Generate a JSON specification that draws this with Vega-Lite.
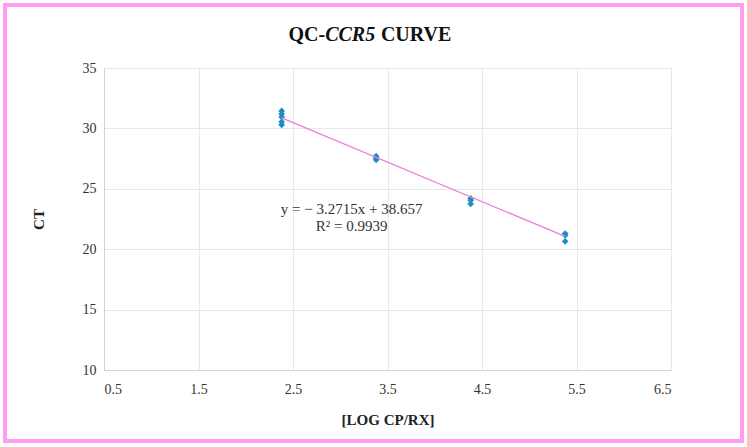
{
  "$schema": "https://vega.github.io/schema/vega-lite/v6.json",
  "width": 567,
  "height": 302,
  "autosize": {"type": "none"},
  "padding": {"left": 104, "top": 68, "right": 76, "bottom": 77},
  "background": "white",
  "config": {
    "view": {"stroke": null},
    "font": "Liberation Serif",
    "axis": {
      "labelFont": "Liberation Serif",
      "titleFont": "Liberation Serif",
      "labelFontSize": 14,
      "labelColor": "#333333",
      "titleFontSize": 15,
      "titleFontWeight": "bold",
      "titleColor": "#222222",
      "ticks": false,
      "grid": true,
      "gridColor": "#E2E9EF",
      "domainColor": "#C6D3E1"
    }
  },
  "datasets": {
    "points": [
      {"logcp": 2.38, "ct": 31.45},
      {"logcp": 2.38, "ct": 31.2},
      {"logcp": 2.38, "ct": 30.95},
      {"logcp": 2.38, "ct": 30.55},
      {"logcp": 2.38, "ct": 30.3},
      {"logcp": 3.38, "ct": 27.7},
      {"logcp": 3.38, "ct": 27.55},
      {"logcp": 3.38, "ct": 27.4},
      {"logcp": 4.38, "ct": 24.2},
      {"logcp": 4.38, "ct": 24.05},
      {"logcp": 4.38, "ct": 23.75},
      {"logcp": 5.38, "ct": 21.3},
      {"logcp": 5.38, "ct": 21.15},
      {"logcp": 5.38, "ct": 20.65}
    ],
    "trend": [
      {"logcp": 2.38, "ct": 30.87},
      {"logcp": 5.38, "ct": 21.06}
    ]
  },
  "layer": [
    {
      "data": {"values": [{}]},
      "mark": {"type": "rect", "fill": null, "stroke": "#FF9CF2", "strokeWidth": 4},
      "encoding": {
        "x": {"value": -99},
        "x2": {"value": 638},
        "y": {"value": -63},
        "y2": {"value": 373}
      }
    },
    {
      "data": {"name": "points"},
      "mark": {"type": "point", "shape": "diamond", "filled": true, "size": 45, "color": "#1C8FC0", "opacity": 1},
      "encoding": {
        "x": {
          "field": "logcp",
          "type": "quantitative",
          "scale": {"domain": [0.5, 6.5], "nice": false, "zero": false},
          "axis": {
            "title": "[LOG CP/RX]",
            "values": [0.5, 1.5, 2.5, 3.5, 4.5, 5.5, 6.5],
            "format": ".1f",
            "labelPadding": 12,
            "titlePadding": 16
          }
        },
        "y": {
          "field": "ct",
          "type": "quantitative",
          "scale": {"domain": [10, 35], "nice": false, "zero": false},
          "axis": {
            "title": "CT",
            "values": [10, 15, 20, 25, 30, 35],
            "labelPadding": 8,
            "titlePadding": 36
          }
        }
      }
    },
    {
      "data": {"name": "trend"},
      "mark": {"type": "line", "color": "#E97FD9", "strokeWidth": 1.2},
      "encoding": {
        "x": {"field": "logcp", "type": "quantitative"},
        "y": {"field": "ct", "type": "quantitative"}
      }
    },
    {
      "data": {"values": [{}]},
      "mark": {"type": "text", "text": "y = − 3.2715x + 38.657", "font": "Liberation Serif", "fontSize": 15, "color": "#333333", "baseline": "middle", "align": "center"},
      "encoding": {
        "x": {"datum": 3.12, "type": "quantitative"},
        "y": {"datum": 23.35, "type": "quantitative"}
      }
    },
    {
      "data": {"values": [{}]},
      "mark": {"type": "text", "text": "R² = 0.9939", "font": "Liberation Serif", "fontSize": 15, "color": "#333333", "baseline": "middle", "align": "center"},
      "encoding": {
        "x": {"datum": 3.12, "type": "quantitative"},
        "y": {"datum": 21.95, "type": "quantitative"}
      }
    },
    {
      "data": {"values": [{}]},
      "mark": {"type": "text", "text": "QC-", "font": "Liberation Serif", "fontSize": 20, "fontWeight": "bold", "color": "#111111", "baseline": "alphabetic", "align": "right"},
      "encoding": {
        "x": {"datum": 2.84, "type": "quantitative"},
        "y": {"datum": 37.25, "type": "quantitative"}
      }
    },
    {
      "data": {"values": [{}]},
      "mark": {"type": "text", "text": "CCR5", "font": "Liberation Serif", "fontSize": 20, "fontWeight": "bold", "fontStyle": "italic", "color": "#111111", "baseline": "alphabetic", "align": "left"},
      "encoding": {
        "x": {"datum": 2.84, "type": "quantitative"},
        "y": {"datum": 37.25, "type": "quantitative"}
      }
    },
    {
      "data": {"values": [{}]},
      "mark": {"type": "text", "text": "CURVE", "font": "Liberation Serif", "fontSize": 20, "fontWeight": "bold", "color": "#111111", "baseline": "alphabetic", "align": "left"},
      "encoding": {
        "x": {"datum": 3.43, "type": "quantitative"},
        "y": {"datum": 37.25, "type": "quantitative"}
      }
    }
  ]
}
